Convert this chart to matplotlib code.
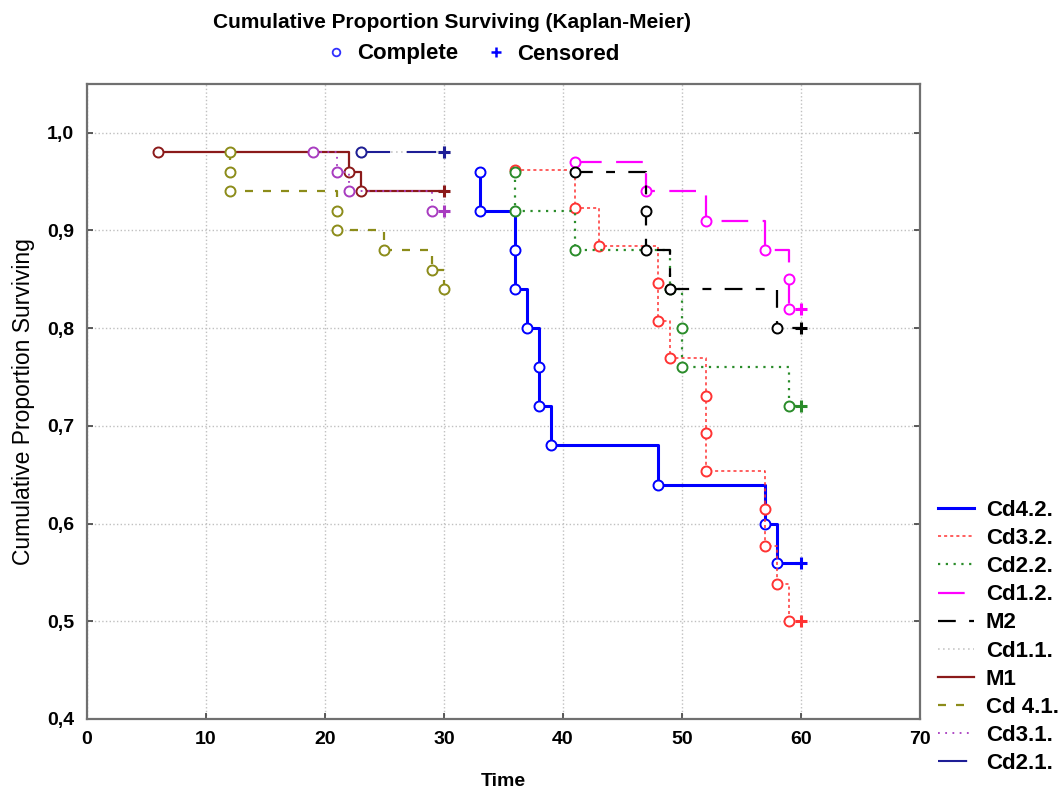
import matplotlib
matplotlib.use("Agg")
import matplotlib.pyplot as plt
from matplotlib.lines import Line2D
from matplotlib.ticker import FuncFormatter, MultipleLocator

plt.rcParams['font.family'] = ['Liberation Sans', 'DejaVu Sans']

# Kaplan-Meier curves: event times, survival after each event, censoring time
labels = ['Cd4.2.', 'Cd3.2.', 'Cd2.2.', 'Cd1.2.', 'M2', 'Cd1.1.', 'M1', 'Cd 4.1.', 'Cd3.1.', 'Cd2.1.']

cd42_t = [33, 33, 36, 36, 37, 38, 38, 39, 48, 57, 58]
cd42_s = [0.96, 0.92, 0.88, 0.84, 0.80, 0.76, 0.72, 0.68, 0.64, 0.60, 0.56]
cd32_t = [36, 41, 43, 48, 48, 49, 52, 52, 52, 57, 57, 58, 59]
cd32_s = [0.9615, 0.9231, 0.8846, 0.8462, 0.8077, 0.7692, 0.7308, 0.6923,
          0.6538, 0.6154, 0.5769, 0.5385, 0.50]
cd22_t = [36, 36, 41, 49, 50, 50, 59]
cd22_s = [0.96, 0.92, 0.88, 0.84, 0.80, 0.76, 0.72]
cd12_t = [41, 47, 52, 57, 59, 59]
cd12_s = [0.97, 0.94, 0.91, 0.88, 0.85, 0.82]
m2_t = [41, 47, 47, 49, 58]
m2_s = [0.96, 0.92, 0.88, 0.84, 0.80]
cd11_t = [23]
cd11_s = [0.98]
m1_t = [6, 22, 23]
m1_s = [0.98, 0.96, 0.94]
cd41_t = [12, 12, 12, 21, 21, 25, 29, 30]
cd41_s = [0.98, 0.96, 0.94, 0.92, 0.90, 0.88, 0.86, 0.84]
cd31_t = [19, 21, 22, 29]
cd31_s = [0.98, 0.96, 0.94, 0.92]
cd21_t = [23]
cd21_s = [0.98]

censor_t = [60, 60, 60, 60, 60, 30, 30, None, 30, 30]

times = [cd42_t, cd32_t, cd22_t, cd12_t, m2_t, cd11_t, m1_t, cd41_t, cd31_t, cd21_t]
survs = [cd42_s, cd32_s, cd22_s, cd12_s, m2_s, cd11_s, m1_s, cd41_s, cd31_s, cd21_s]

# styles per series
colors = ['#0000ff', '#ff3333', '#2a8c2a', '#ff00ff', '#000000', '#c8c8c8',
          '#8b1a1a', '#8c8c1a', '#a83cc0', '#1e1e96']
styles = ['-', (0, (2, 2)), (0, (1, 2.5)), (0, (12, 6.5)), (0, (8, 6, 4, 6)),
          (0, (1, 2)), '-', (0, (3.6, 4.5)), (0, (1, 3)), (0, (14, 8))]
widths = [2.2, 1.1, 1.6, 1.6, 1.6, 1.2, 1.6, 1.6, 1.3, 1.5]

fig = plt.figure(figsize=(10.6, 7.92), dpi=100)
ax = fig.add_axes([0.0818, 0.0922, 0.868 - 0.0818, 0.894 - 0.0922])

for i in range(len(labels)):
    t = list(times[i])
    s = list(survs[i])
    if censor_t[i] is not None:
        lt = t + [censor_t[i]]
        ls_ = s + [s[-1]]
    else:
        lt, ls_ = t, s
    ax.plot(lt, ls_, drawstyle='steps-post', color=colors[i], linestyle=styles[i],
            linewidth=widths[i])
    ax.plot(t, s, linestyle='none', marker='o', markersize=7.2, markerfacecolor='white',
            markeredgecolor=colors[i], markeredgewidth=1.4)
    if censor_t[i] is not None:
        ax.plot([censor_t[i]], [s[-1]], linestyle='none', marker='+', markersize=8,
                markeredgewidth=2.2, color=colors[i])

ax.set_xlim(0, 70)
ax.set_ylim(0.4, 1.05)
ax.xaxis.set_major_locator(MultipleLocator(10))
ax.set_yticks([0.4, 0.5, 0.6, 0.7, 0.8, 0.9, 1.0])
ax.yaxis.set_major_formatter(FuncFormatter(lambda v, p: f"{v:.1f}".replace('.', ',')))
ax.grid(True, color='#c0c0c0', linestyle=':', linewidth=1)
ax.tick_params(direction='in', length=4, width=1.2, color='#404040',
               labelsize=14, right=True)
ax.tick_params(axis='x', pad=9)
ax.tick_params(axis='y', pad=9)
for lab in ax.get_xticklabels() + ax.get_yticklabels():
    lab.set_fontweight('bold')
for sp in ax.spines.values():
    sp.set_color('#707070')
    sp.set_linewidth(1.6)

ax.set_xlabel('Time', fontsize=14, fontweight='bold', labelpad=18)
ax.set_ylabel('Cumulative Proportion Surviving', fontsize=16.5, labelpad=9)

# title and marker key
fig.text(452 / 1060, 1 - 23 / 792, 'Cumulative Proportion Surviving (Kaplan-Meier)',
         ha='center', va='center', fontsize=15, fontweight='bold')
key = [Line2D([], [], linestyle='none', marker='o', markersize=5.5, markerfacecolor='white',
              markeredgecolor='#3030ff', markeredgewidth=1.3),
       Line2D([], [], linestyle='none', marker='+', markersize=7, markeredgewidth=1.8,
              color='#0000ff')]
fig.legend(key, ['Complete', 'Censored'], loc='center', ncol=2,
           bbox_to_anchor=(472 / 1060, 1 - 54 / 792), frameon=False,
           prop={'weight': 'bold', 'size': 16}, handlelength=1.0, handletextpad=0.45,
           columnspacing=1.2)

# series legend
handles = [Line2D([], [], color=colors[i], linestyle=styles[i], linewidth=widths[i])
           for i in range(len(labels))]
fig.legend(handles, labels, loc='upper left', bbox_to_anchor=(938 / 1060, 1 - 500 / 792),
           frameon=False, prop={'weight': 'bold', 'size': 16}, handlelength=1.6,
           handletextpad=0.55, labelspacing=0.32, borderaxespad=0, borderpad=0)

fig.savefig('out.png', dpi=100)
